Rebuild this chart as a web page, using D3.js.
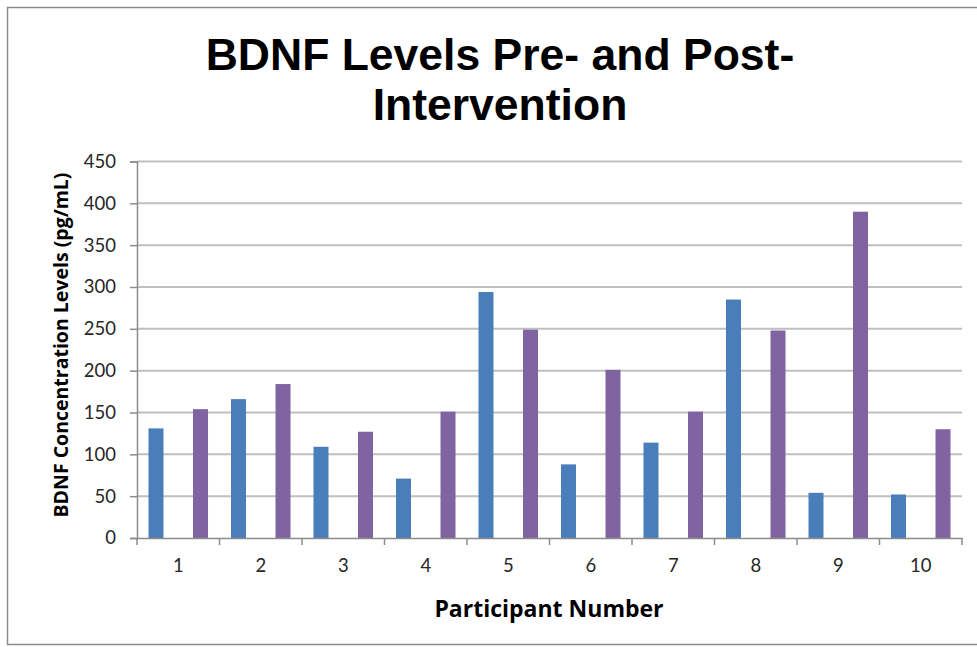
<!DOCTYPE html>
<html>
<head>
<meta charset="utf-8">
<script src="https://cdn.jsdelivr.net/npm/d3@7"></script>
<style>
  html, body { margin: 0; padding: 0; background: #fff; }
  svg { display: block; }
</style>
</head>
<body>
<svg id="chart" width="977" height="647"></svg>
<script>
const categories = ["1","2","3","4","5","6","7","8","9","10"];
const seriesNames = ["Pre","Post"];
const preValues  = [131, 166, 109, 71, 294, 88, 114, 285, 54, 52];
const postValues = [154, 184, 127, 151, 249, 201, 151, 248, 390, 130];
const yTicks = [0, 50, 100, 150, 200, 250, 300, 350, 400, 450];
const colors = ["#4a7ebb", "#8064a2"];

(function () {
const svg = d3.select("#chart");
const W = 977, H = 647;
const pLeft = 137, pRight = 962, pTop = 161.5, pBottom = 538;

// frame
svg.append("rect").attr("x", 7.5).attr("y", 7.5).attr("width", W).attr("height", 637)
  .attr("fill", "#fff").attr("stroke", "#8c8c8c").attr("stroke-width", 1.5);

const x = d3.scaleBand().domain(categories).range([pLeft, pRight]).paddingInner(0).paddingOuter(0);
const xi = d3.scaleBand().domain(seriesNames).range([0, x.bandwidth()]).paddingInner(0.663).paddingOuter(0.258);
const y = d3.scaleLinear().domain([0, 450]).range([pBottom, pTop]);

// gridlines
svg.append("g").selectAll("line").data(yTicks.filter(d => d > 0)).join("line")
  .attr("x1", pLeft).attr("x2", pRight)
  .attr("y1", d => y(d)).attr("y2", d => y(d))
  .attr("stroke", "#bfbfbf").attr("stroke-width", 2);

// y axis
const yAxis = d3.axisLeft(y).tickValues(yTicks).tickSize(7).tickPadding(14).tickFormat(d3.format("d"));
const gy = svg.append("g").attr("transform", `translate(${pLeft},0)`).call(yAxis);
gy.select(".domain").attr("stroke", "#8c8c8c").attr("stroke-width", 1.5);
gy.selectAll(".tick line").attr("stroke", "#8c8c8c").attr("stroke-width", 1.5);
gy.selectAll(".tick text").attr("fill", "#262626").style("font-family", "Lato, 'Open Sans', sans-serif").style("font-size", "18.5px");

// bars
const data = categories.map((c, i) => ({c, vals: [
  {s: seriesNames[0], v: preValues[i]},
  {s: seriesNames[1], v: postValues[i]}
]}));
const groups = svg.append("g").selectAll("g").data(data).join("g")
  .attr("transform", d => `translate(${x(d.c)},0)`);
groups.selectAll("rect").data(d => d.vals).join("rect")
  .attr("x", d => xi(d.s)).attr("width", xi.bandwidth())
  .attr("y", d => y(d.v)).attr("height", d => y(0) - y(d.v))
  .attr("fill", (d, i) => colors[i]);

// x axis
const xAxis = d3.axisBottom(x).tickSize(0).tickPadding(21);
const gx = svg.append("g").attr("transform", `translate(0,${pBottom})`).call(xAxis);
gx.select(".domain").attr("stroke", "#8c8c8c").attr("stroke-width", 1.5);
gx.selectAll(".tick text").attr("fill", "#262626").style("font-family", "Lato, 'Open Sans', sans-serif").style("font-size", "18.5px");
// category boundary ticks
svg.append("g").selectAll("line").data(categories.concat(["end"])).join("line")
  .attr("x1", (d, i) => pLeft + i * x.step()).attr("x2", (d, i) => pLeft + i * x.step())
  .attr("y1", pBottom).attr("y2", pBottom + 7)
  .attr("stroke", "#8c8c8c").attr("stroke-width", 1.5);

// title
const title = svg.append("text").attr("text-anchor", "middle")
  .style("font-family", "'Liberation Sans', Arial, sans-serif").style("font-weight", "bold")
  .style("font-size", "44.5px").attr("fill", "#000");
title.append("tspan").attr("x", 500).attr("y", 70).text("BDNF Levels Pre- and Post-");
title.append("tspan").attr("x", 500).attr("y", 120).text("Intervention");

// axis titles
svg.append("text").attr("text-anchor", "middle")
  .attr("transform", `translate(68,345) rotate(-90)`)
  .style("font-family", "'Open Sans', sans-serif").style("font-weight", "bold")
  .style("font-size", "19.5px").attr("fill", "#000")
  .text("BDNF Concentration Levels (pg/mL)");
svg.append("text").attr("text-anchor", "middle").attr("x", 549).attr("y", 617)
  .style("font-family", "'Open Sans', sans-serif").style("font-weight", "bold")
  .style("font-size", "23px").attr("fill", "#000")
  .text("Participant Number");
})();
</script>
</body>
</html>
